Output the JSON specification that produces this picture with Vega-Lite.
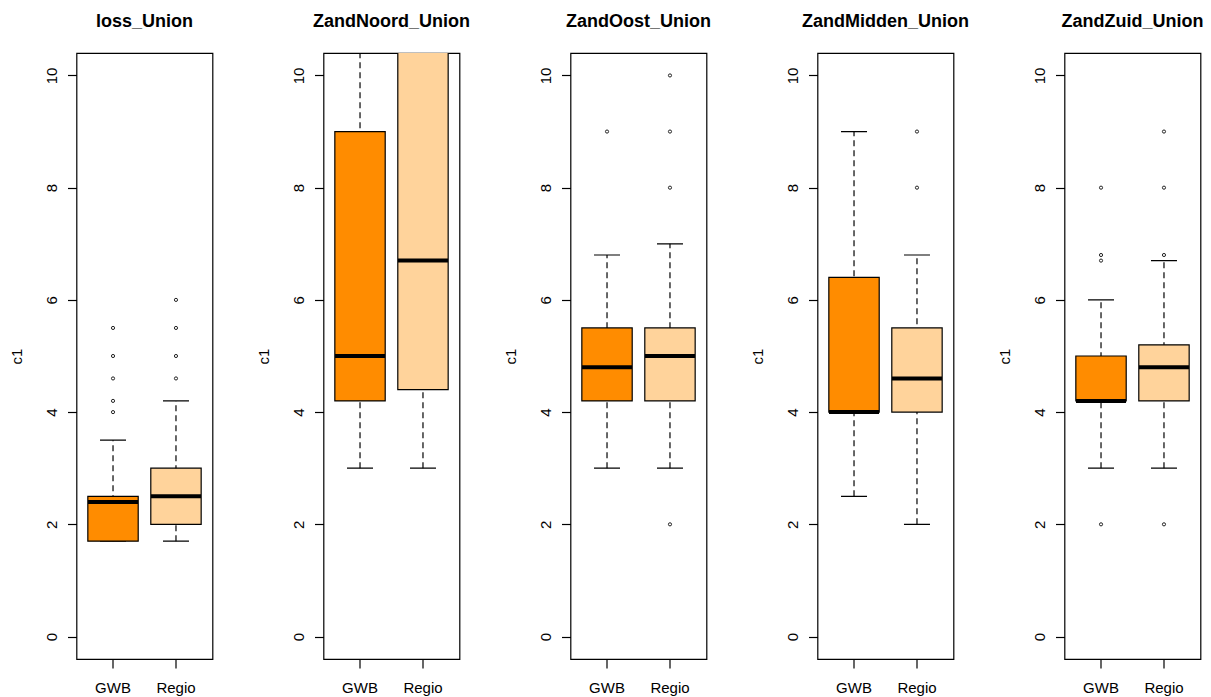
{
  "$schema": "https://vega.github.io/schema/vega-lite/v6.json",
  "background": "white",
  "padding": {"left": 8.5, "top": 12, "right": 6, "bottom": 2},
  "spacing": 111,
  "bounds": "flush",
  "data": {
    "values": [
      {"panel": "loss_Union", "group": "GWB", "lo": 1.7, "q1": 1.7, "med": 2.4, "q3": 2.5, "hi": 3.5},
      {"panel": "loss_Union", "group": "Regio", "lo": 1.7, "q1": 2.0, "med": 2.5, "q3": 3.0, "hi": 4.2},
      {"panel": "loss_Union", "group": "GWB", "out": 4.0},
      {"panel": "loss_Union", "group": "GWB", "out": 4.2},
      {"panel": "loss_Union", "group": "GWB", "out": 4.6},
      {"panel": "loss_Union", "group": "GWB", "out": 5.0},
      {"panel": "loss_Union", "group": "GWB", "out": 5.5},
      {"panel": "loss_Union", "group": "Regio", "out": 4.6},
      {"panel": "loss_Union", "group": "Regio", "out": 5.0},
      {"panel": "loss_Union", "group": "Regio", "out": 5.5},
      {"panel": "loss_Union", "group": "Regio", "out": 6.0},
      {"panel": "ZandNoord_Union", "group": "GWB", "lo": 3.0, "q1": 4.2, "med": 5.0, "q3": 9.0, "hi": 13.0},
      {"panel": "ZandNoord_Union", "group": "Regio", "lo": 3.0, "q1": 4.4, "med": 6.7, "q3": 12.0, "hi": 16.0},
      {"panel": "ZandOost_Union", "group": "GWB", "lo": 3.0, "q1": 4.2, "med": 4.8, "q3": 5.5, "hi": 6.8},
      {"panel": "ZandOost_Union", "group": "Regio", "lo": 3.0, "q1": 4.2, "med": 5.0, "q3": 5.5, "hi": 7.0},
      {"panel": "ZandOost_Union", "group": "GWB", "out": 9.0},
      {"panel": "ZandOost_Union", "group": "Regio", "out": 2.0},
      {"panel": "ZandOost_Union", "group": "Regio", "out": 8.0},
      {"panel": "ZandOost_Union", "group": "Regio", "out": 9.0},
      {"panel": "ZandOost_Union", "group": "Regio", "out": 10.0},
      {"panel": "ZandMidden_Union", "group": "GWB", "lo": 2.5, "q1": 4.0, "med": 4.0, "q3": 6.4, "hi": 9.0},
      {"panel": "ZandMidden_Union", "group": "Regio", "lo": 2.0, "q1": 4.0, "med": 4.6, "q3": 5.5, "hi": 6.8},
      {"panel": "ZandMidden_Union", "group": "Regio", "out": 8.0},
      {"panel": "ZandMidden_Union", "group": "Regio", "out": 9.0},
      {"panel": "ZandZuid_Union", "group": "GWB", "lo": 3.0, "q1": 4.2, "med": 4.2, "q3": 5.0, "hi": 6.0},
      {"panel": "ZandZuid_Union", "group": "Regio", "lo": 3.0, "q1": 4.2, "med": 4.8, "q3": 5.2, "hi": 6.7},
      {"panel": "ZandZuid_Union", "group": "GWB", "out": 2.0},
      {"panel": "ZandZuid_Union", "group": "GWB", "out": 6.7},
      {"panel": "ZandZuid_Union", "group": "GWB", "out": 6.8},
      {"panel": "ZandZuid_Union", "group": "GWB", "out": 8.0},
      {"panel": "ZandZuid_Union", "group": "Regio", "out": 2.0},
      {"panel": "ZandZuid_Union", "group": "Regio", "out": 6.8},
      {"panel": "ZandZuid_Union", "group": "Regio", "out": 8.0},
      {"panel": "ZandZuid_Union", "group": "Regio", "out": 9.0}
    ]
  },
  "hconcat": [
    {
      "title": "loss_Union",
      "width": 136, "height": 606,
      "transform": [{"filter": "datum.panel == 'loss_Union'"}],
      "encoding": {"x": {"field": "group", "type": "nominal", "title": null, "scale": {"domain": ["GWB", "Regio"], "paddingInner": 0.2, "paddingOuter": 0.18}}},
      "layer": [
        {"mark": {"type": "rule", "strokeDash": [6, 4], "color": "black", "strokeWidth": 1.2, "clip": true}, "encoding": {"y": {"field": "lo", "type": "quantitative", "title": "c1", "scale": {"domain": [-0.4, 10.4], "nice": false, "zero": false}}, "y2": {"field": "hi"}}},
        {"mark": {"type": "tick", "size": 26, "thickness": 1.2, "color": "black", "opacity": 1, "clip": true}, "encoding": {"y": {"field": "lo", "type": "quantitative", "title": "c1", "scale": {"domain": [-0.4, 10.4], "nice": false, "zero": false}}}},
        {"mark": {"type": "tick", "size": 26, "thickness": 1.2, "color": "black", "opacity": 1, "clip": true}, "encoding": {"y": {"field": "hi", "type": "quantitative", "title": "c1", "scale": {"domain": [-0.4, 10.4], "nice": false, "zero": false}}}},
        {"mark": {"type": "bar", "stroke": "black", "strokeWidth": 1.2, "opacity": 1, "clip": true}, "encoding": {"y": {"field": "q1", "type": "quantitative", "title": "c1", "scale": {"domain": [-0.4, 10.4], "nice": false, "zero": false}}, "y2": {"field": "q3"}, "fill": {"field": "group", "type": "nominal", "scale": {"domain": ["GWB", "Regio"], "range": ["#FF8C00", "#FFD39B"]}, "legend": null}}},
        {"mark": {"type": "tick", "size": 50, "thickness": 4, "color": "black", "opacity": 1, "clip": true}, "encoding": {"y": {"field": "med", "type": "quantitative", "title": "c1", "scale": {"domain": [-0.4, 10.4], "nice": false, "zero": false}}}},
        {"mark": {"type": "point", "shape": "circle", "size": 10, "filled": false, "stroke": "#222222", "strokeWidth": 1, "opacity": 1, "clip": true}, "encoding": {"y": {"field": "out", "type": "quantitative", "title": "c1", "scale": {"domain": [-0.4, 10.4], "nice": false, "zero": false}}}}
      ]
    },
    {
      "title": "ZandNoord_Union",
      "width": 136, "height": 606,
      "transform": [{"filter": "datum.panel == 'ZandNoord_Union'"}],
      "encoding": {"x": {"field": "group", "type": "nominal", "title": null, "scale": {"domain": ["GWB", "Regio"], "paddingInner": 0.2, "paddingOuter": 0.18}}},
      "layer": [
        {"mark": {"type": "rule", "strokeDash": [6, 4], "color": "black", "strokeWidth": 1.2, "clip": true}, "encoding": {"y": {"field": "lo", "type": "quantitative", "title": "c1", "scale": {"domain": [-0.4, 10.4], "nice": false, "zero": false}}, "y2": {"field": "hi"}}},
        {"mark": {"type": "tick", "size": 26, "thickness": 1.2, "color": "black", "opacity": 1, "clip": true}, "encoding": {"y": {"field": "lo", "type": "quantitative", "title": "c1", "scale": {"domain": [-0.4, 10.4], "nice": false, "zero": false}}}},
        {"mark": {"type": "tick", "size": 26, "thickness": 1.2, "color": "black", "opacity": 1, "clip": true}, "encoding": {"y": {"field": "hi", "type": "quantitative", "title": "c1", "scale": {"domain": [-0.4, 10.4], "nice": false, "zero": false}}}},
        {"mark": {"type": "bar", "stroke": "black", "strokeWidth": 1.2, "opacity": 1, "clip": true}, "encoding": {"y": {"field": "q1", "type": "quantitative", "title": "c1", "scale": {"domain": [-0.4, 10.4], "nice": false, "zero": false}}, "y2": {"field": "q3"}, "fill": {"field": "group", "type": "nominal", "scale": {"domain": ["GWB", "Regio"], "range": ["#FF8C00", "#FFD39B"]}, "legend": null}}},
        {"mark": {"type": "tick", "size": 50, "thickness": 4, "color": "black", "opacity": 1, "clip": true}, "encoding": {"y": {"field": "med", "type": "quantitative", "title": "c1", "scale": {"domain": [-0.4, 10.4], "nice": false, "zero": false}}}},
        {"mark": {"type": "point", "shape": "circle", "size": 10, "filled": false, "stroke": "#222222", "strokeWidth": 1, "opacity": 1, "clip": true}, "encoding": {"y": {"field": "out", "type": "quantitative", "title": "c1", "scale": {"domain": [-0.4, 10.4], "nice": false, "zero": false}}}}
      ]
    },
    {
      "title": "ZandOost_Union",
      "width": 136, "height": 606,
      "transform": [{"filter": "datum.panel == 'ZandOost_Union'"}],
      "encoding": {"x": {"field": "group", "type": "nominal", "title": null, "scale": {"domain": ["GWB", "Regio"], "paddingInner": 0.2, "paddingOuter": 0.18}}},
      "layer": [
        {"mark": {"type": "rule", "strokeDash": [6, 4], "color": "black", "strokeWidth": 1.2, "clip": true}, "encoding": {"y": {"field": "lo", "type": "quantitative", "title": "c1", "scale": {"domain": [-0.4, 10.4], "nice": false, "zero": false}}, "y2": {"field": "hi"}}},
        {"mark": {"type": "tick", "size": 26, "thickness": 1.2, "color": "black", "opacity": 1, "clip": true}, "encoding": {"y": {"field": "lo", "type": "quantitative", "title": "c1", "scale": {"domain": [-0.4, 10.4], "nice": false, "zero": false}}}},
        {"mark": {"type": "tick", "size": 26, "thickness": 1.2, "color": "black", "opacity": 1, "clip": true}, "encoding": {"y": {"field": "hi", "type": "quantitative", "title": "c1", "scale": {"domain": [-0.4, 10.4], "nice": false, "zero": false}}}},
        {"mark": {"type": "bar", "stroke": "black", "strokeWidth": 1.2, "opacity": 1, "clip": true}, "encoding": {"y": {"field": "q1", "type": "quantitative", "title": "c1", "scale": {"domain": [-0.4, 10.4], "nice": false, "zero": false}}, "y2": {"field": "q3"}, "fill": {"field": "group", "type": "nominal", "scale": {"domain": ["GWB", "Regio"], "range": ["#FF8C00", "#FFD39B"]}, "legend": null}}},
        {"mark": {"type": "tick", "size": 50, "thickness": 4, "color": "black", "opacity": 1, "clip": true}, "encoding": {"y": {"field": "med", "type": "quantitative", "title": "c1", "scale": {"domain": [-0.4, 10.4], "nice": false, "zero": false}}}},
        {"mark": {"type": "point", "shape": "circle", "size": 10, "filled": false, "stroke": "#222222", "strokeWidth": 1, "opacity": 1, "clip": true}, "encoding": {"y": {"field": "out", "type": "quantitative", "title": "c1", "scale": {"domain": [-0.4, 10.4], "nice": false, "zero": false}}}}
      ]
    },
    {
      "title": "ZandMidden_Union",
      "width": 136, "height": 606,
      "transform": [{"filter": "datum.panel == 'ZandMidden_Union'"}],
      "encoding": {"x": {"field": "group", "type": "nominal", "title": null, "scale": {"domain": ["GWB", "Regio"], "paddingInner": 0.2, "paddingOuter": 0.18}}},
      "layer": [
        {"mark": {"type": "rule", "strokeDash": [6, 4], "color": "black", "strokeWidth": 1.2, "clip": true}, "encoding": {"y": {"field": "lo", "type": "quantitative", "title": "c1", "scale": {"domain": [-0.4, 10.4], "nice": false, "zero": false}}, "y2": {"field": "hi"}}},
        {"mark": {"type": "tick", "size": 26, "thickness": 1.2, "color": "black", "opacity": 1, "clip": true}, "encoding": {"y": {"field": "lo", "type": "quantitative", "title": "c1", "scale": {"domain": [-0.4, 10.4], "nice": false, "zero": false}}}},
        {"mark": {"type": "tick", "size": 26, "thickness": 1.2, "color": "black", "opacity": 1, "clip": true}, "encoding": {"y": {"field": "hi", "type": "quantitative", "title": "c1", "scale": {"domain": [-0.4, 10.4], "nice": false, "zero": false}}}},
        {"mark": {"type": "bar", "stroke": "black", "strokeWidth": 1.2, "opacity": 1, "clip": true}, "encoding": {"y": {"field": "q1", "type": "quantitative", "title": "c1", "scale": {"domain": [-0.4, 10.4], "nice": false, "zero": false}}, "y2": {"field": "q3"}, "fill": {"field": "group", "type": "nominal", "scale": {"domain": ["GWB", "Regio"], "range": ["#FF8C00", "#FFD39B"]}, "legend": null}}},
        {"mark": {"type": "tick", "size": 50, "thickness": 4, "color": "black", "opacity": 1, "clip": true}, "encoding": {"y": {"field": "med", "type": "quantitative", "title": "c1", "scale": {"domain": [-0.4, 10.4], "nice": false, "zero": false}}}},
        {"mark": {"type": "point", "shape": "circle", "size": 10, "filled": false, "stroke": "#222222", "strokeWidth": 1, "opacity": 1, "clip": true}, "encoding": {"y": {"field": "out", "type": "quantitative", "title": "c1", "scale": {"domain": [-0.4, 10.4], "nice": false, "zero": false}}}}
      ]
    },
    {
      "title": "ZandZuid_Union",
      "width": 136, "height": 606,
      "transform": [{"filter": "datum.panel == 'ZandZuid_Union'"}],
      "encoding": {"x": {"field": "group", "type": "nominal", "title": null, "scale": {"domain": ["GWB", "Regio"], "paddingInner": 0.2, "paddingOuter": 0.18}}},
      "layer": [
        {"mark": {"type": "rule", "strokeDash": [6, 4], "color": "black", "strokeWidth": 1.2, "clip": true}, "encoding": {"y": {"field": "lo", "type": "quantitative", "title": "c1", "scale": {"domain": [-0.4, 10.4], "nice": false, "zero": false}}, "y2": {"field": "hi"}}},
        {"mark": {"type": "tick", "size": 26, "thickness": 1.2, "color": "black", "opacity": 1, "clip": true}, "encoding": {"y": {"field": "lo", "type": "quantitative", "title": "c1", "scale": {"domain": [-0.4, 10.4], "nice": false, "zero": false}}}},
        {"mark": {"type": "tick", "size": 26, "thickness": 1.2, "color": "black", "opacity": 1, "clip": true}, "encoding": {"y": {"field": "hi", "type": "quantitative", "title": "c1", "scale": {"domain": [-0.4, 10.4], "nice": false, "zero": false}}}},
        {"mark": {"type": "bar", "stroke": "black", "strokeWidth": 1.2, "opacity": 1, "clip": true}, "encoding": {"y": {"field": "q1", "type": "quantitative", "title": "c1", "scale": {"domain": [-0.4, 10.4], "nice": false, "zero": false}}, "y2": {"field": "q3"}, "fill": {"field": "group", "type": "nominal", "scale": {"domain": ["GWB", "Regio"], "range": ["#FF8C00", "#FFD39B"]}, "legend": null}}},
        {"mark": {"type": "tick", "size": 50, "thickness": 4, "color": "black", "opacity": 1, "clip": true}, "encoding": {"y": {"field": "med", "type": "quantitative", "title": "c1", "scale": {"domain": [-0.4, 10.4], "nice": false, "zero": false}}}},
        {"mark": {"type": "point", "shape": "circle", "size": 10, "filled": false, "stroke": "#222222", "strokeWidth": 1, "opacity": 1, "clip": true}, "encoding": {"y": {"field": "out", "type": "quantitative", "title": "c1", "scale": {"domain": [-0.4, 10.4], "nice": false, "zero": false}}}}
      ]
    }
  ],
  "config": {
    "view": {"stroke": "black", "strokeWidth": 1.2},
    "axis": {"domain": false, "grid": false, "ticks": true, "tickColor": "black", "tickSize": 9, "tickWidth": 1.2, "labelColor": "black", "labelFont": "Liberation Sans", "labelFontSize": 15, "titleFont": "Liberation Sans", "titleFontSize": 15, "titleFontWeight": "normal", "titleColor": "black"},
    "axisX": {"labelAngle": 0, "labelBaseline": "alphabetic", "labelPadding": 24},
    "axisY": {"tickCount": 6, "labelAngle": -90, "labelAlign": "center", "labelBaseline": "alphabetic", "labelPadding": 11, "titleAngle": -90, "titleAlign": "center", "titleBaseline": "alphabetic", "titleX": -55, "titleY": 303},
    "title": {"font": "Liberation Sans", "fontSize": 18, "fontWeight": "bold", "color": "black", "baseline": "alphabetic", "offset": 22, "frame": "group", "anchor": "middle"}
  }
}
